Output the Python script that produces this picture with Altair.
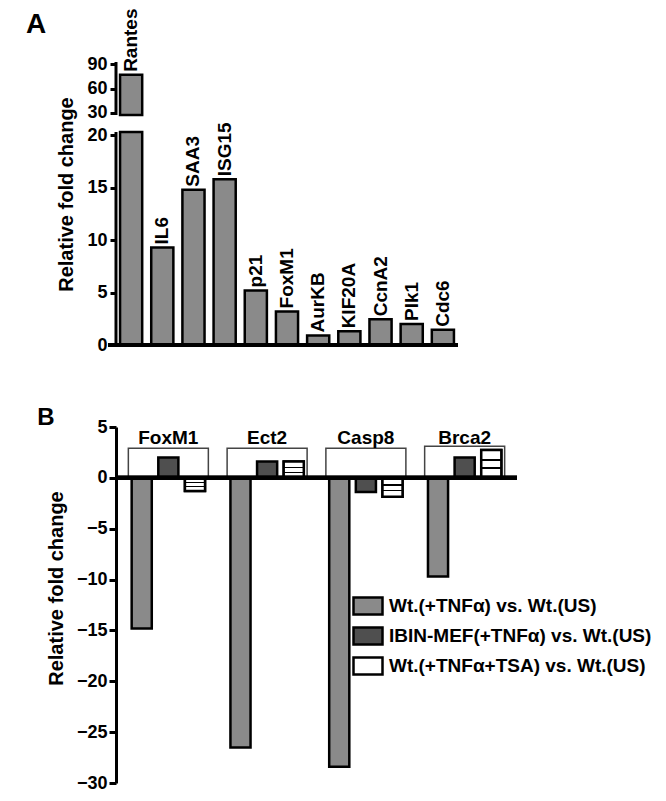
import altair as alt
import pandas as pd

FONT = "Liberation Sans"

# ---------------- Panel A data ----------------
genes_a = ["Rantes", "IL6", "SAA3", "ISG15", "p21", "FoxM1", "AurKB",
           "KIF20A", "CcnA2", "Plk1", "Cdc6"]
fold_a = [77, 9.3, 14.8, 15.8, 5.2, 3.2, 0.9, 1.3, 2.45, 2.0, 1.45]
ticks_a = [0, 5, 10, 15, 20, 30, 60, 90]
break_low = [0, 27]      # axis segments (start)
break_high = [20.3, 93]  # axis segments (end)

# ---------------- Panel B data ----------------
genes_b = ["FoxM1", "Ect2", "Casp8", "Brca2"]
series_b = ["Wt.(+TNF\u03b1) vs. Wt.(US)",
            "IBIN-MEF(+TNF\u03b1) vs. Wt.(US)",
            "Wt.(+TNF\u03b1+TSA) vs. Wt.(US)"]
wt_tnf = [-14.8, -26.5, -28.4, -9.7]
ibin_tnf = [2.0, 1.6, -1.4, 2.0]
wt_tnf_tsa = [-1.3, 1.6, -1.85, 2.75]
bracket_top = [2.9, 2.9, 2.9, 3.1]
label_level = [3.95, 3.95, 3.95, 3.95]
ticks_b = [5, 0, -5, -10, -15, -20, -25, -30]
panel_letters = ["A", "B"]

series_colors = ["#8a8a8a", "#4f4f4f", "#ffffff"]

# ---------------- Panel A ----------------
df_a = pd.DataFrame({"gene": genes_a, "fold": fold_a})
df_axis = pd.DataFrame({"lo": break_low, "hi": break_high})
WA, HA = 342, 283

# piecewise (broken) axis: 0..20.3 lower segment, 27..93 upper segment
y_scale_a = alt.Scale(domain=[0, 20.3, 27, 93], range=[HA, 70, 53, 0],
                      nice=False, zero=False)
x_a = alt.X("gene:N", sort=genes_a,
            scale=alt.Scale(domain=genes_a, paddingInner=0.29, paddingOuter=0.13),
            axis=None)

base_a = alt.Chart(df_a)

bars_low = base_a.transform_calculate(
    lo_top="min(datum.fold, 20.3)"
).mark_bar(fill="#8a8a8a", stroke="black", strokeWidth=2.5).encode(
    x=x_a,
    y=alt.Y("lo_top:Q", scale=y_scale_a,
            axis=alt.Axis(values=ticks_a, title="Relative fold change",
                          titleY=132, domain=False)),
    y2=alt.datum(0),
)
bars_up = base_a.transform_filter("datum.fold > 27").mark_bar(
    fill="#8a8a8a", stroke="black", strokeWidth=2.5
).encode(x=x_a, y=alt.Y("fold:Q", scale=y_scale_a), y2=alt.datum(27))

axis_lines = alt.Chart(df_axis).mark_rule(color="black", strokeWidth=3).encode(
    x=alt.value(0), y=alt.Y("lo:Q", scale=y_scale_a), y2="hi:Q")

base_line_a = alt.Chart(df_axis).mark_rule(color="black", strokeWidth=4).encode(
    x=alt.value(-8), x2=alt.value(WA), y=alt.datum(0))

labels_a = base_a.mark_text(
    angle=270, align="left", baseline="middle", dx=3,
    font=FONT, fontSize=19, fontWeight="bold", color="black"
).encode(x=x_a, y=alt.Y("fold:Q", scale=y_scale_a), text="gene:N")

letter_a = alt.Chart(pd.DataFrame({"letter": [panel_letters[0]]})).mark_text(
    font=FONT, fontSize=28, fontWeight="bold", color="black",
    align="center", baseline="middle"
).encode(text="letter:N", x=alt.value(-80), y=alt.value(-37))

panel_a = alt.layer(bars_low, bars_up, axis_lines, base_line_a, labels_a,
                    letter_a).properties(width=WA, height=HA)

# ---------------- Panel B ----------------
rows = []
for vals, s in zip([wt_tnf, ibin_tnf, wt_tnf_tsa], series_b):
    for g, v in zip(genes_b, vals):
        rows.append({"gene": g, "series": s, "value": v})
df_b = pd.DataFrame(rows)
df_br = pd.DataFrame({"gene": genes_b, "top": bracket_top, "lab": label_level})

HB = 356
x_b = alt.X("gene:N", sort=genes_b,
            scale=alt.Scale(paddingInner=0, paddingOuter=0.03), axis=None)
xo_b = alt.XOffset("series:N", sort=series_b,
                   scale=alt.Scale(paddingInner=0.245, paddingOuter=0.477))
y_scale_b = alt.Scale(domain=[-30, 5], nice=False)
y_b = alt.Y("value:Q", scale=y_scale_b,
            axis=alt.Axis(values=ticks_b, title="Relative fold change",
                          titleY=161, labelPadding=2, tickSize=7))

brackets = alt.Chart(df_br).mark_bar(
    fillOpacity=0, stroke="#444444", strokeWidth=1.5,
    width=alt.RelativeBandSize(0.81)
).encode(x=x_b, y=alt.Y("top:Q", scale=y_scale_b), y2=alt.datum(0))

bars_b = alt.Chart(df_b).mark_bar(stroke="black", strokeWidth=2.5).encode(
    x=x_b, xOffset=xo_b, y=y_b,
    fill=alt.Fill("series:N", sort=series_b,
                  scale=alt.Scale(domain=series_b, range=series_colors),
                  legend=alt.Legend(
                      title=None, orient="none", legendX=236, legendY=163,
                      symbolType="M-1,-0.59H1V0.59H-1Z", symbolSize=841,
                      symbolStrokeColor="black", symbolStrokeWidth=2.5,
                      symbolOpacity=1,
                      labelFont=FONT, labelFontSize=19, labelFontWeight="bold",
                      labelColor="black", labelLimit=0, labelOffset=5,
                      rowPadding=-1, padding=0)),
)

stripes = alt.Gradient(
    gradient="linear", x1=0, x2=0, y1=0, y2=1,
    stops=[
        alt.GradientStop(color="white", offset=0),
        alt.GradientStop(color="white", offset=0.33),
        alt.GradientStop(color="black", offset=0.33),
        alt.GradientStop(color="black", offset=0.41),
        alt.GradientStop(color="white", offset=0.41),
        alt.GradientStop(color="white", offset=0.62),
        alt.GradientStop(color="black", offset=0.62),
        alt.GradientStop(color="black", offset=0.70),
        alt.GradientStop(color="white", offset=0.70),
        alt.GradientStop(color="white", offset=1),
    ],
)
bars_striped = alt.Chart(df_b).transform_filter(
    alt.datum.series == series_b[2]
).mark_bar(fill=stripes, stroke="black", strokeWidth=2.5).encode(
    x=x_b, xOffset=xo_b, y=y_b)

zero_line = alt.Chart(df_br).mark_rule(color="black", strokeWidth=4).encode(
    y=alt.datum(0))

group_labels = alt.Chart(df_br).mark_text(
    font=FONT, fontSize=19, fontWeight="bold", color="black",
    align="center", baseline="middle"
).encode(x=x_b, y=alt.Y("lab:Q", scale=y_scale_b), text="gene:N")

letter_b = alt.Chart(pd.DataFrame({"letter": [panel_letters[1]]})).mark_text(
    font=FONT, fontSize=24, fontWeight="bold", color="black",
    align="center", baseline="middle"
).encode(text="letter:N", x=alt.value(-70), y=alt.value(-9))

panel_b = alt.layer(brackets, bars_b, bars_striped, zero_line, group_labels,
                    letter_b).properties(width=401, height=HB)

chart = alt.vconcat(panel_a, panel_b, spacing=82, bounds="flush").resolve_scale(
    x="independent", y="independent"
).resolve_legend(fill="independent").properties(
    padding={"left": 17, "top": 0, "right": 0, "bottom": 0}
).configure_view(stroke=None).configure_axis(
    grid=False,
    labelFont=FONT, labelFontSize=18, labelFontWeight="bold", labelColor="black",
    labelPadding=3,
    domainColor="black", domainWidth=3,
    tickColor="black", tickWidth=3, tickSize=6,
    titleFont=FONT, titleFontSize=20, titleFontWeight="bold", titleColor="black",
    titlePadding=10,
)

chart.save("out.html", embed_options={"renderer": "svg", "actions": False})
